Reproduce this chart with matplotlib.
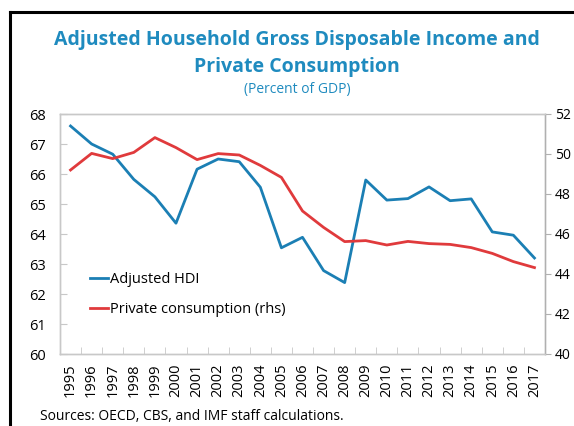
import matplotlib
matplotlib.use('Agg')
import matplotlib.pyplot as plt
from matplotlib.lines import Line2D

plt.rcParams['font.family'] = ['Open Sans', 'DejaVu Sans']

years = list(range(1995, 2018))
adjusted_hdi = [67.6, 67.0, 66.66, 65.82, 65.24, 64.36, 66.16, 66.5, 66.41, 65.56,
                63.54, 63.89, 62.78, 62.38, 65.8, 65.13, 65.18, 65.57, 65.11, 65.17,
                64.07, 63.96, 63.2]
private_consumption = [49.2, 50.03, 49.77, 50.08, 50.82, 50.32, 49.72, 50.02, 49.95, 49.43,
                       48.83, 47.15, 46.33, 45.62, 45.67, 45.45, 45.63, 45.52, 45.48, 45.32,
                       45.03, 44.62, 44.32]

BLUE = '#1b7fb4'
RED = '#e03a3c'
TITLE = '#1f8bbf'
SPINE = '#c8c8c8'

W, H = 574, 426
fig = plt.figure(figsize=(W / 100, H / 100), dpi=100)
fig.subplots_adjust(left=60 / W, right=545 / W, top=1 - 114 / H, bottom=1 - 354 / H)
ax = fig.add_subplot(111)
ax2 = ax.twinx()

ax.plot(years, adjusted_hdi, color=BLUE, lw=2.0, label='Adjusted HDI')
ax2.plot(years, private_consumption, color=RED, lw=2.0, label='Private consumption (rhs)')

ax.set_xlim(1994.5, 2017.5)
ax.set_ylim(60, 68)
ax2.set_ylim(40, 52)
ax.set_yticks(range(60, 69))
ax2.set_yticks(range(40, 53, 2))
ax.set_xticks(years)
ax.set_xticklabels([str(y) for y in years], rotation=90)
ax.set_xticks([y + 0.5 for y in years[:-1]], minor=True)

ax.tick_params(axis='x', which='major', length=0, pad=7, labelsize=10.5)
ax.tick_params(axis='x', which='minor', direction='in', length=5, color=SPINE)
ax.tick_params(axis='y', direction='in', length=5, color=SPINE, labelsize=10.5, pad=10)
ax2.tick_params(axis='y', direction='out', length=4, color='#b0b0b0', labelsize=10, pad=3)

for a in (ax, ax2):
    for s in a.spines.values():
        s.set_color(SPINE)
        s.set_linewidth(1.0)
ax2.spines['right'].set_color('#b0b0b0')

handles = [Line2D([], [], color=BLUE, lw=2.0), Line2D([], [], color=RED, lw=2.0)]
ax.legend(handles, ['Adjusted HDI', 'Private consumption (rhs)'], loc='lower left',
          bbox_to_anchor=(0.05, 0.13), frameon=False, fontsize=10.5,
          handlelength=1.2, handletextpad=0.15, labelspacing=1.0, borderaxespad=0)

fig.text(297 / W, 1 - 40 / H, 'Adjusted Household Gross Disposable Income and',
         ha='center', va='center', fontsize=14, fontweight='bold', color=TITLE)
fig.text(297 / W, 1 - 67 / H, 'Private Consumption',
         ha='center', va='center', fontsize=14, fontweight='bold', color=TITLE)
fig.text(297 / W, 1 - 89 / H, '(Percent of GDP)',
         ha='center', va='center', fontsize=10, color=TITLE)
fig.text(40 / W, 1 - 417 / H, 'Sources: OECD, CBS, and IMF staff calculations.',
         ha='left', va='center', fontsize=10)

# black frame at the top and left edges
fig.add_artist(Line2D([10 / W, 10 / W], [0, 1 - 12 / H], color='black', lw=2.2,
                      transform=fig.transFigure))
fig.add_artist(Line2D([10 / W, 572 / W], [1 - 12 / H, 1 - 12 / H], color='black', lw=2.2,
                      transform=fig.transFigure))

fig.savefig('out.png', dpi=100)
